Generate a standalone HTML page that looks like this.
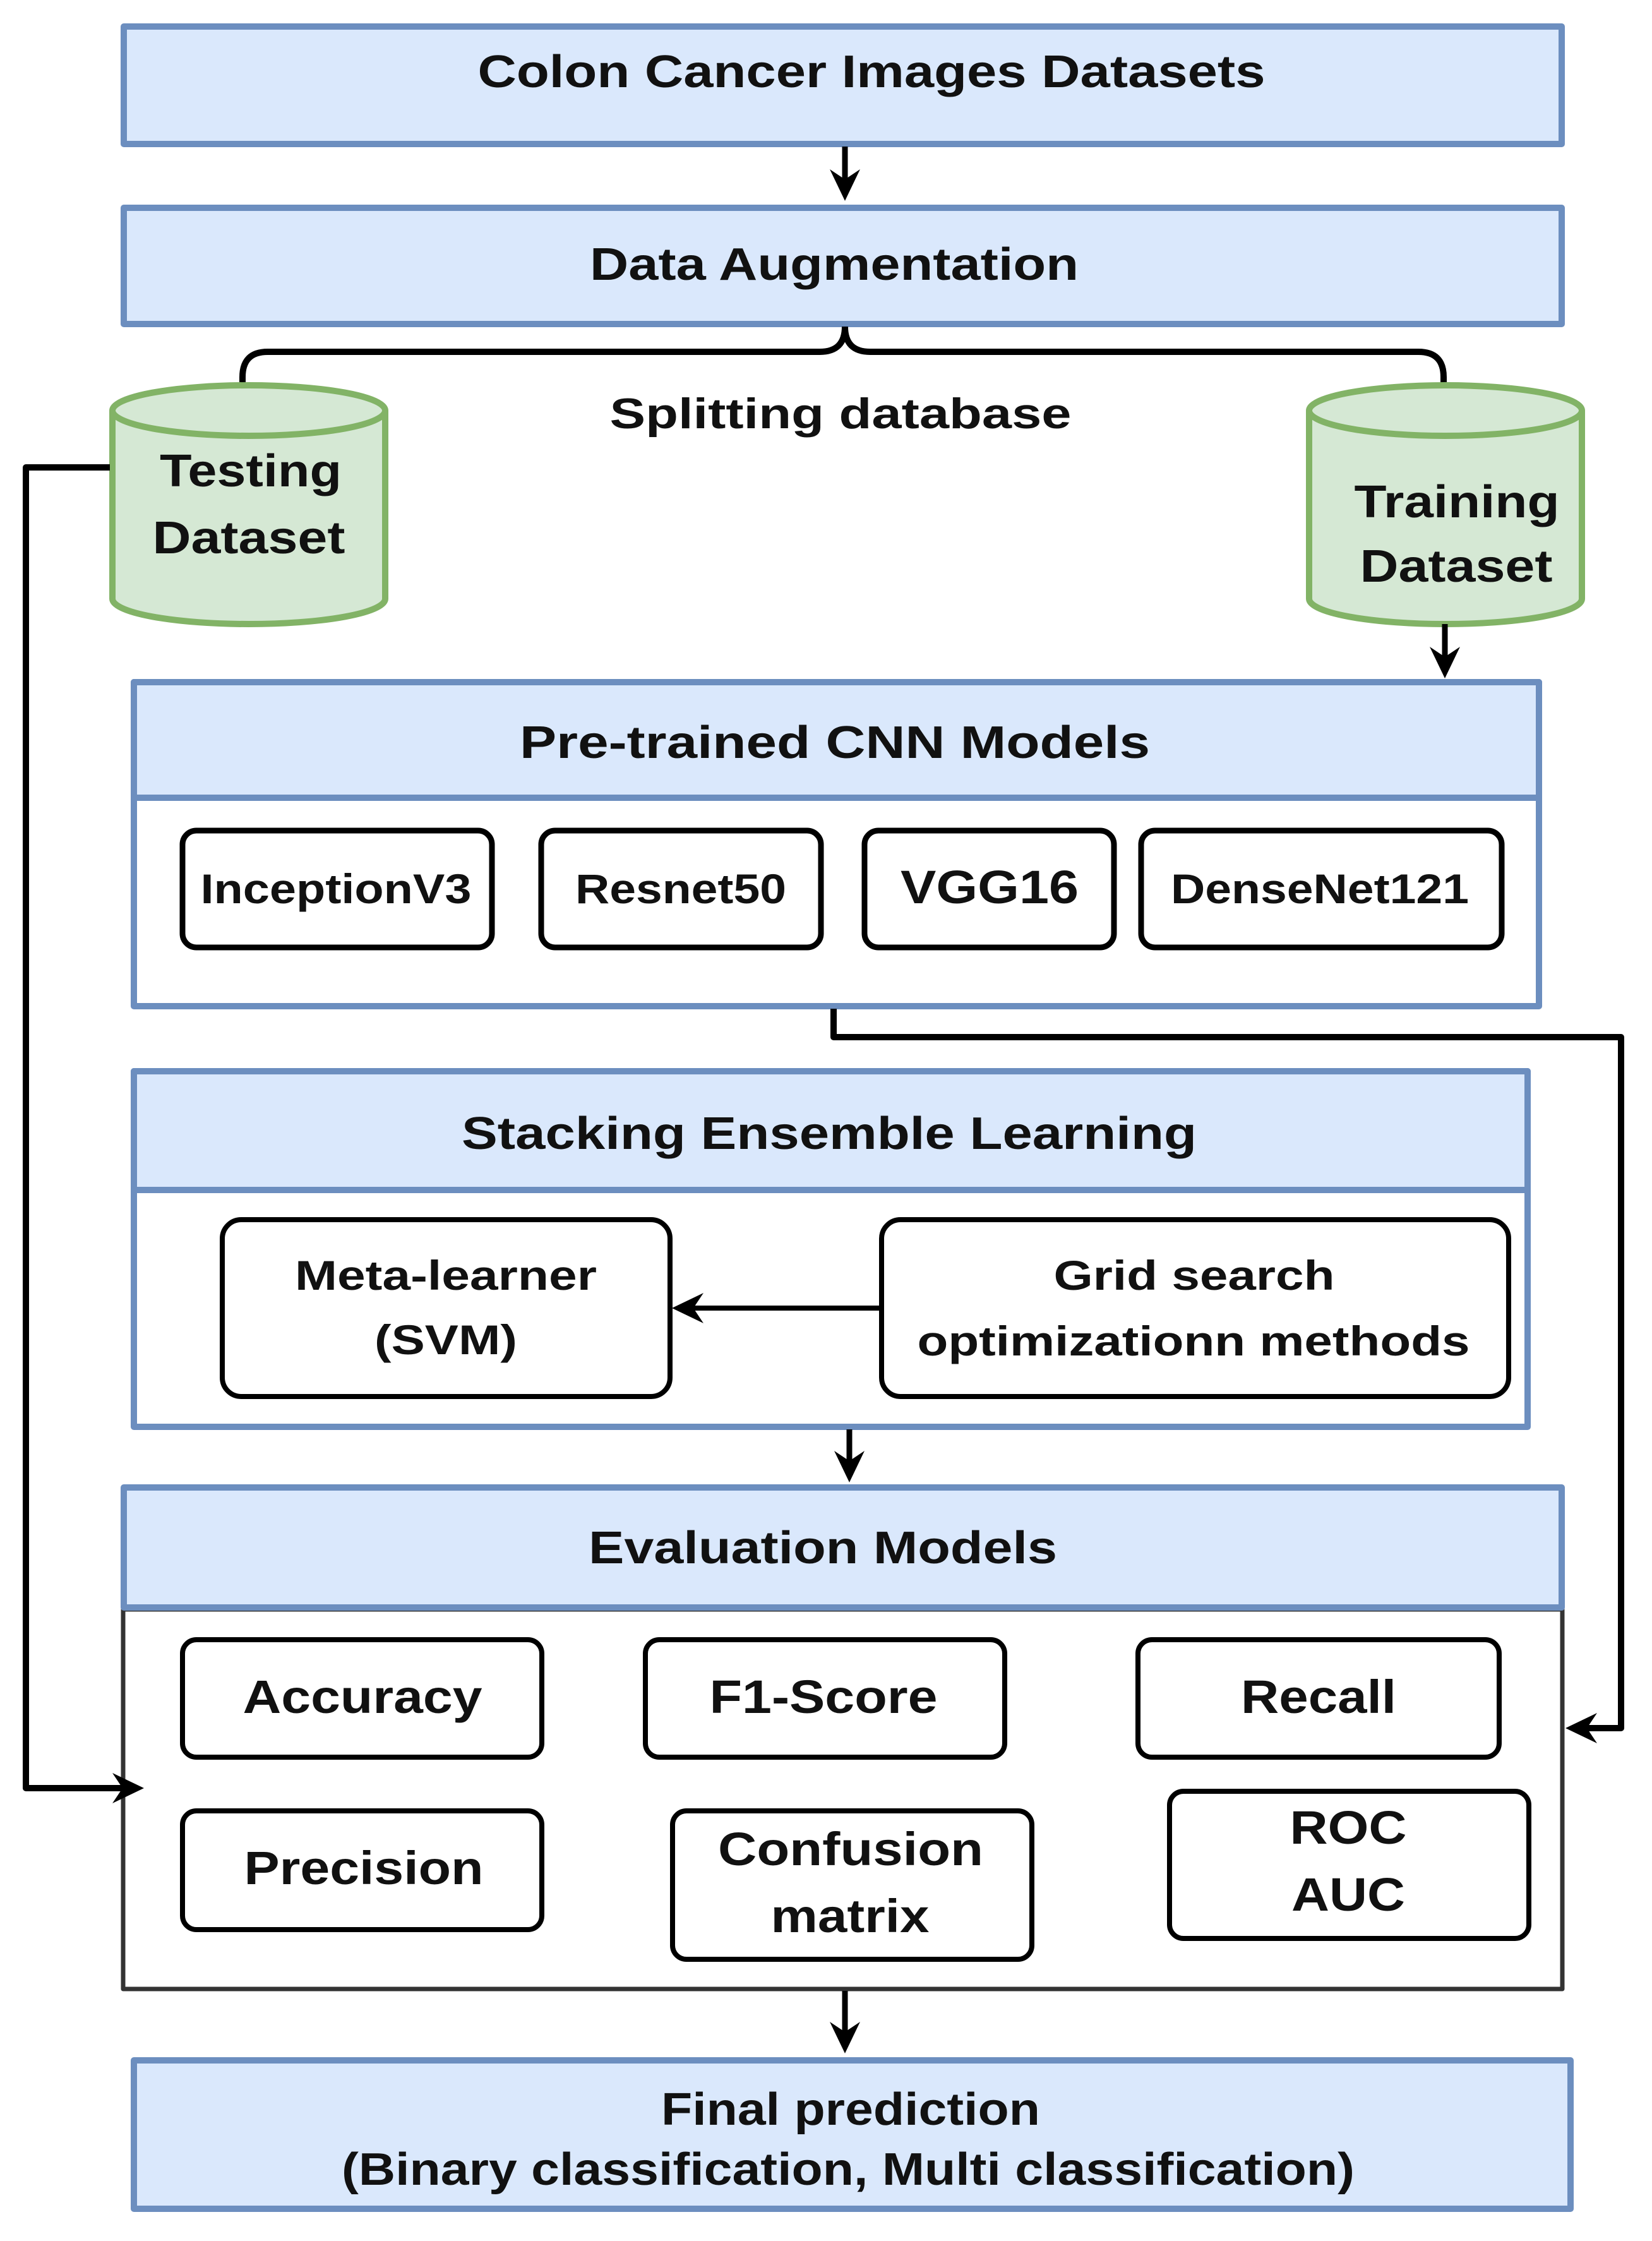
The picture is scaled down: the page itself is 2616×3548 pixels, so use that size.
<!DOCTYPE html>
<html><head><meta charset="utf-8"><style>
html,body{margin:0;padding:0;background:#fff}
svg{display:block}
text{font-family:"Liberation Sans",sans-serif;font-weight:bold;fill:#111;text-anchor:middle}
</style></head><body>
<svg width="2616" height="3548" viewBox="0 0 2616 3548" xmlns="http://www.w3.org/2000/svg">
<g stroke-linejoin="round">
<!-- Box1 -->
<rect x="196" y="42" width="2277" height="186" fill="#dae8fc" stroke="#6c8ebf" stroke-width="10"/>
<text x="1380" y="138" font-size="72" textLength="1247" lengthAdjust="spacingAndGlyphs">Colon Cancer Images Datasets</text>
<line x1="1338" y1="232" x2="1338" y2="300" stroke="#000" stroke-width="9"/>
<polygon points="1338,318 1314,268 1338,284 1362,268" fill="#000"/>
<!-- Box2 -->
<rect x="196" y="329" width="2277" height="184" fill="#dae8fc" stroke="#6c8ebf" stroke-width="10"/>
<text x="1321" y="443" font-size="72" textLength="774" lengthAdjust="spacingAndGlyphs">Data Augmentation</text>
<path d="M1338 517 Q1338 557 1298 557 L424 557 Q384 557 384 597 L384 612 M1338 517 Q1338 557 1378 557 L2246 557 Q2286 557 2286 597 L2286 612" fill="none" stroke="#000" stroke-width="10"/>
<text x="1331" y="678" font-size="68" textLength="731" lengthAdjust="spacingAndGlyphs">Splitting database</text>
<!-- testing cylinder -->
<path d="M178 650 L178 948 A216 40 0 0 0 610 948 L610 650" fill="#d5e8d4" stroke="#82b366" stroke-width="10"/>
<ellipse cx="394" cy="650" rx="216" ry="40" fill="#d5e8d4" stroke="#82b366" stroke-width="10"/>
<text x="397" y="770" font-size="72" textLength="288" lengthAdjust="spacingAndGlyphs">Testing</text>
<text x="394" y="876" font-size="72" textLength="305" lengthAdjust="spacingAndGlyphs">Dataset</text>
<!-- training cylinder -->
<path d="M2073 650 L2073 948 A216 40 0 0 0 2505 948 L2505 650" fill="#d5e8d4" stroke="#82b366" stroke-width="10"/>
<ellipse cx="2289" cy="650" rx="216" ry="40" fill="#d5e8d4" stroke="#82b366" stroke-width="10"/>
<text x="2307" y="819" font-size="72" textLength="325" lengthAdjust="spacingAndGlyphs">Training</text>
<text x="2306" y="921" font-size="72" textLength="305" lengthAdjust="spacingAndGlyphs">Dataset</text>
<line x1="2288" y1="988" x2="2288" y2="1055" stroke="#000" stroke-width="9"/>
<polygon points="2288,1074 2264,1024 2288,1040 2312,1024" fill="#000"/>
<!-- Pretrained -->
<rect x="212" y="1080" width="2225" height="513" fill="#fff" stroke="#6c8ebf" stroke-width="10"/>
<rect x="212" y="1080" width="2225" height="183" fill="#dae8fc" stroke="#6c8ebf" stroke-width="10"/>
<text x="1322" y="1200" font-size="72" textLength="998" lengthAdjust="spacingAndGlyphs">Pre-trained CNN  Models</text>
<g fill="#fff" stroke="#000" stroke-width="9">
<rect x="289" y="1315" width="490" height="185" rx="22"/>
<rect x="857" y="1315" width="443" height="185" rx="22"/>
<rect x="1369" y="1315" width="395" height="185" rx="22"/>
<rect x="1807" y="1315" width="571" height="185" rx="22"/>
</g>
<text x="532" y="1430" font-size="66" textLength="429" lengthAdjust="spacingAndGlyphs">InceptionV3</text>
<text x="1078" y="1430" font-size="66" textLength="334" lengthAdjust="spacingAndGlyphs">Resnet50</text>
<text x="1567" y="1430" font-size="74" textLength="282" lengthAdjust="spacingAndGlyphs">VGG16</text>
<text x="2090" y="1430" font-size="66" textLength="472" lengthAdjust="spacingAndGlyphs">DenseNet121</text>
<!-- Stacking -->
<rect x="212" y="1696" width="2207" height="563" fill="#fff" stroke="#6c8ebf" stroke-width="10"/>
<rect x="212" y="1696" width="2207" height="188" fill="#dae8fc" stroke="#6c8ebf" stroke-width="10"/>
<text x="1313" y="1819" font-size="72" textLength="1164" lengthAdjust="spacingAndGlyphs">Stacking Ensemble Learning</text>
<rect x="352" y="1931" width="709" height="280" rx="30" fill="#fff" stroke="#000" stroke-width="8"/>
<rect x="1396" y="1931" width="993" height="280" rx="30" fill="#fff" stroke="#000" stroke-width="8"/>
<text x="706" y="2042" font-size="66" textLength="478" lengthAdjust="spacingAndGlyphs">Meta-learner</text>
<text x="706" y="2144" font-size="66" textLength="226" lengthAdjust="spacingAndGlyphs">(SVM)</text>
<text x="1891" y="2042" font-size="66" textLength="445" lengthAdjust="spacingAndGlyphs">Grid search</text>
<text x="1890" y="2146" font-size="66" textLength="875" lengthAdjust="spacingAndGlyphs">optimizationn methods</text>
<line x1="1396" y1="2071" x2="1085" y2="2071" stroke="#000" stroke-width="8"/>
<polygon points="1064,2071 1114,2047 1098,2071 1114,2095" fill="#000"/>
<line x1="1345" y1="2263" x2="1345" y2="2328" stroke="#000" stroke-width="9"/>
<polygon points="1345,2347 1321,2297 1345,2313 1369,2297" fill="#000"/>
<!-- Evaluation -->
<rect x="195" y="2548" width="2279" height="601" fill="#fff" stroke="#333" stroke-width="7"/>
<rect x="196" y="2355" width="2277" height="190" fill="#dae8fc" stroke="#6c8ebf" stroke-width="10"/>
<text x="1303" y="2475" font-size="72" textLength="742" lengthAdjust="spacingAndGlyphs">Evaluation Models</text>
<g fill="#fff" stroke="#000" stroke-width="8">
<rect x="289" y="2596" width="569" height="186" rx="22"/>
<rect x="1022" y="2596" width="569" height="186" rx="22"/>
<rect x="1802" y="2596" width="572" height="186" rx="22"/>
<rect x="289" y="2867" width="569" height="188" rx="22"/>
<rect x="1065" y="2867" width="569" height="235" rx="22"/>
<rect x="1852" y="2836" width="569" height="233" rx="22"/>
</g>
<text x="574" y="2712" font-size="74" textLength="379" lengthAdjust="spacingAndGlyphs">Accuracy</text>
<text x="1304" y="2712" font-size="74" textLength="361" lengthAdjust="spacingAndGlyphs">F1-Score</text>
<text x="2088" y="2712" font-size="74" textLength="246" lengthAdjust="spacingAndGlyphs">Recall</text>
<text x="576" y="2983" font-size="74" textLength="379" lengthAdjust="spacingAndGlyphs">Precision</text>
<text x="1347" y="2953" font-size="74" textLength="420" lengthAdjust="spacingAndGlyphs">Confusion</text>
<text x="1346" y="3059" font-size="74" textLength="251" lengthAdjust="spacingAndGlyphs">matrix</text>
<text x="2135" y="2919" font-size="74" textLength="185" lengthAdjust="spacingAndGlyphs">ROC</text>
<text x="2135" y="3025" font-size="74" textLength="180" lengthAdjust="spacingAndGlyphs">AUC</text>
<line x1="1338" y1="3152" x2="1338" y2="3232" stroke="#000" stroke-width="9"/>
<polygon points="1338,3251 1314,3201 1338,3217 1362,3201" fill="#000"/>
<!-- Final -->
<rect x="212" y="3262" width="2275" height="235" fill="#dae8fc" stroke="#6c8ebf" stroke-width="10"/>
<text x="1347" y="3364" font-size="72" textLength="600" lengthAdjust="spacingAndGlyphs">Final prediction</text>
<text x="1343" y="3459" font-size="72" textLength="1604" lengthAdjust="spacingAndGlyphs">(Binary classification, Multi classification)</text>
<!-- connectors on top -->
<path d="M1320 1597 L1320 1642 L2567 1642 L2567 2736 L2500 2736" fill="none" stroke="#000" stroke-width="10"/>
<polygon points="2479,2736 2529,2712 2513,2736 2529,2760" fill="#000"/>
<path d="M174 740 L41 740 L41 2831 L205 2831" fill="none" stroke="#000" stroke-width="10"/>
<polygon points="228,2831 178,2807 194,2831 178,2855" fill="#000"/>
</g>
</svg>
</body></html>
